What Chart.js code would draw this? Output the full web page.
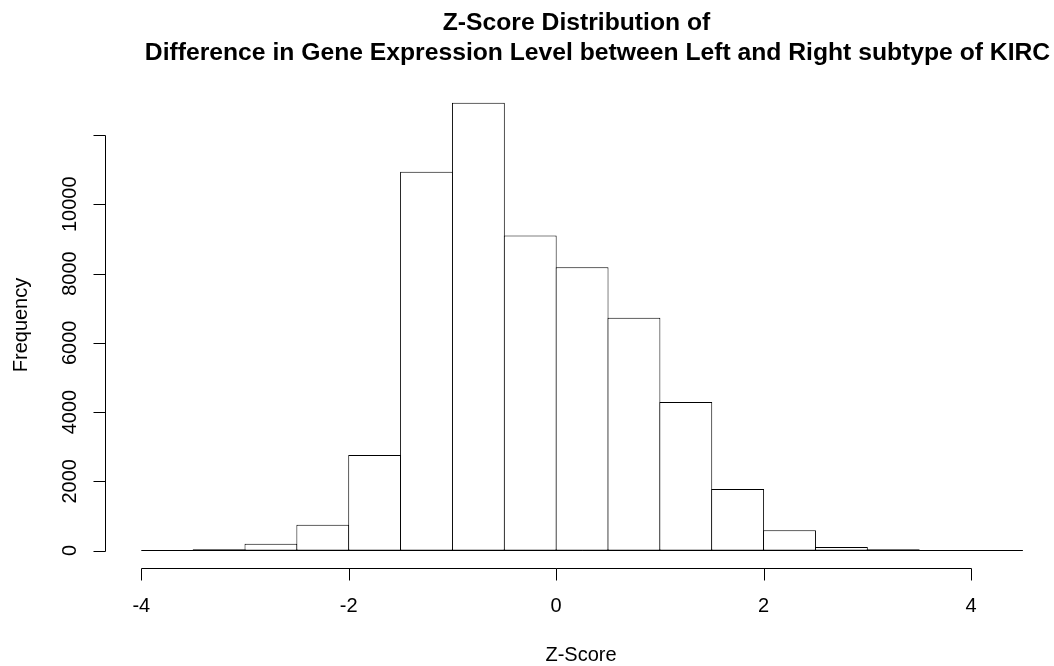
<!DOCTYPE html>
<html>
<head>
<meta charset="utf-8">
<script src="https://cdn.jsdelivr.net/npm/chart.js@4"></script>
<style>
  html, body { margin: 0; padding: 0; background: #fff; }
  #c { display: block; }
</style>
</head>
<body>
<canvas id="c" width="1054" height="666"></canvas>
<script>
// ---- data ----
const titleLines = ["Z-Score Distribution of", "Difference in Gene Expression Level between Left and Right subtype of KIRC"];
const xAxisTitle = "Z-Score";
const yAxisTitle = "Frequency";
const breaks = [-4, -3.5, -3, -2.5, -2, -1.5, -1, -0.5, 0, 0.5, 1, 1.5, 2, 2.5, 3, 3.5, 4, 4.5];
const counts = [3, 40, 195, 745, 2760, 10940, 12935, 9100, 8180, 6720, 4290, 1780, 587, 105, 35, 6, 1];
const xTicks = [-4, -2, 0, 2, 4];
const xTickLabels = ["-4", "-2", "0", "2", "4"];
const yTicks = [0, 2000, 4000, 6000, 8000, 10000, 12000];
const yTickLabels = ["0", "2000", "4000", "6000", "8000", "10000", ""];

const FONT = '"Liberation Sans", Arial, Helvetica, sans-serif';

const rAxes = {
  id: 'rAxes',
  afterDraw(chart) {
    const ctx = chart.ctx;
    const xs = chart.scales.x, ys = chart.scales.y;
    ctx.save();
    ctx.strokeStyle = '#000';
    ctx.fillStyle = '#000';
    ctx.lineWidth = 1;

    // histogram baseline (covers zero-height bins)
    const y0 = Math.round(ys.getPixelForValue(0)) - 0.5;
    ctx.beginPath();
    ctx.moveTo(xs.getPixelForValue(breaks[0]), y0);
    ctx.lineTo(xs.getPixelForValue(breaks[breaks.length - 1]), y0);
    ctx.stroke();

    // x axis
    const xAxisY = 568.5, tick = 12;
    ctx.beginPath();
    ctx.moveTo(Math.round(xs.getPixelForValue(xTicks[0])) + 0.5, xAxisY);
    ctx.lineTo(Math.round(xs.getPixelForValue(xTicks[xTicks.length - 1])) + 0.5, xAxisY);
    xTicks.forEach(v => {
      const px = Math.round(xs.getPixelForValue(v)) + 0.5;
      ctx.moveTo(px, xAxisY);
      ctx.lineTo(px, xAxisY + tick);
    });
    ctx.stroke();
    ctx.font = '20px ' + FONT;
    ctx.textAlign = 'center';
    ctx.textBaseline = 'alphabetic';
    xTicks.forEach((v, i) => {
      ctx.fillText(xTickLabels[i], xs.getPixelForValue(v), 612);
    });

    // y axis
    const yAxisX = 105.5;
    ctx.beginPath();
    ctx.moveTo(yAxisX, Math.round(ys.getPixelForValue(yTicks[0])) + 0.5);
    ctx.lineTo(yAxisX, Math.round(ys.getPixelForValue(yTicks[yTicks.length - 1])) + 0.5);
    yTicks.forEach(v => {
      const py = Math.round(ys.getPixelForValue(v)) + 0.5;
      ctx.moveTo(yAxisX, py);
      ctx.lineTo(yAxisX - tick, py);
    });
    ctx.stroke();
    yTicks.forEach((v, i) => {
      if (!yTickLabels[i]) return;
      ctx.save();
      ctx.translate(76, ys.getPixelForValue(v));
      ctx.rotate(-Math.PI / 2);
      ctx.textAlign = 'center';
      ctx.fillText(yTickLabels[i], 0, 0);
      ctx.restore();
    });

    // axis titles
    ctx.textAlign = 'center';
    ctx.fillText(xAxisTitle, 581, 661);
    ctx.save();
    ctx.translate(27, 325);
    ctx.rotate(-Math.PI / 2);
    ctx.fillText(yAxisTitle, 0, 0);
    ctx.restore();

    // title
    ctx.font = 'bold 24.7px ' + FONT;
    ctx.fillText(titleLines[0], 576.5, 30);
    ctx.fillText(titleLines[1], 597.5, 60);
    ctx.restore();
  }
};

new Chart(document.getElementById('c'), {
  type: 'bar',
  data: {
    datasets: [{
      data: counts.map((c, i) => ({ x: (breaks[i] + breaks[i + 1]) / 2, y: c })),
      backgroundColor: '#ffffff',
      borderColor: '#000000',
      borderWidth: 1,
      borderSkipped: false,
      inflateAmount: 0,
      barPercentage: 1.0193,
      categoryPercentage: 1
    }]
  },
  options: {
    responsive: false,
    devicePixelRatio: 1,
    animation: false,
    layout: { padding: { left: 105, right: 0, top: 90, bottom: 98 } },
    scales: {
      x: { type: 'linear', offset: false, grid: { offset: false }, min: -4.35, max: 4.8, display: false },
      y: { type: 'linear', min: -505, max: 13300, display: false }
    },
    plugins: { legend: { display: false }, tooltip: { enabled: false }, title: { display: false } }
  },
  plugins: [rAxes]
});
</script>
</body>
</html>
